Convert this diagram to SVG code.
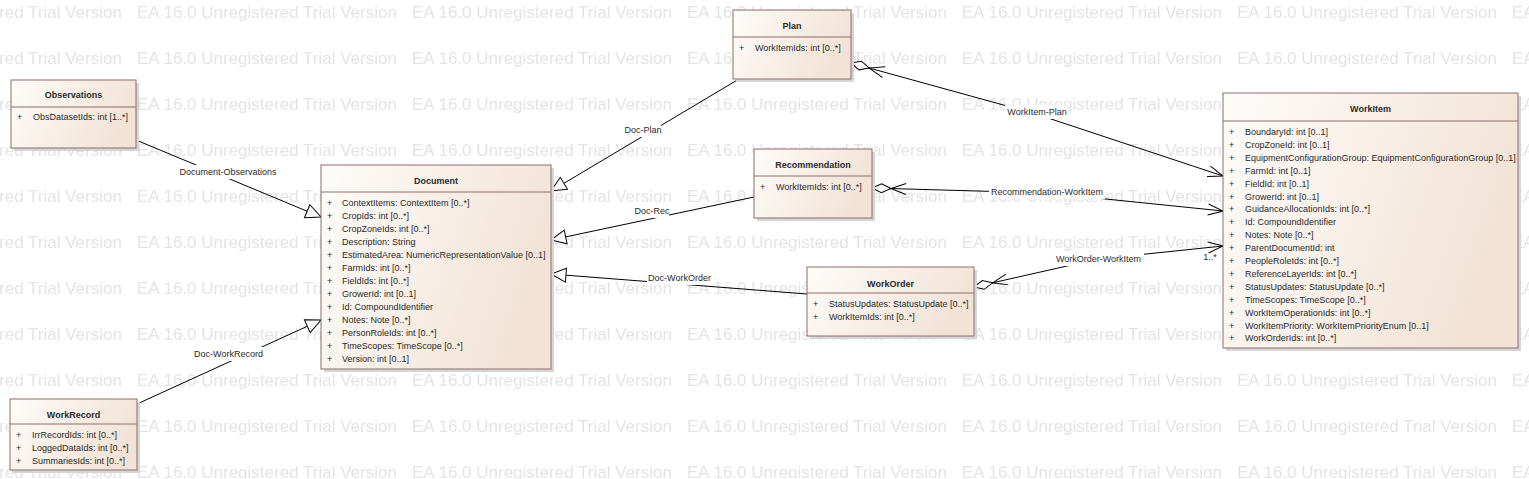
<svg xmlns="http://www.w3.org/2000/svg" width="1529" height="479" viewBox="0 0 1529 479">
<style>
.wm{font-family:"Liberation Sans",Arial,sans-serif;font-size:17px;fill:#e4e4e4}
.box{fill:url(#boxfill);stroke:#8a6e6e;stroke-width:1}
.shadow{fill:#d6d6d6}
.div{stroke:#8a6e6e;stroke-width:1}
.name{font-family:"Liberation Sans",Arial,sans-serif;font-size:9px;font-weight:bold;fill:#2a2a2a;text-anchor:middle}
.attr{font-family:"Liberation Sans",Arial,sans-serif;font-size:9px;fill:#2a2a2a}
.line{fill:none;stroke:#000;stroke-width:1}
.gen{marker-end:url(#gen)}
.agg{marker-start:url(#agg);marker-end:url(#open)}
.lblbg{fill:#fff}
.lbl{font-family:"Liberation Sans",Arial,sans-serif;font-size:9px;fill:#2a2a2a;text-anchor:middle}
</style>
<defs>
<linearGradient id="boxfill" x1="0" y1="0" x2="1" y2="0.3">
<stop offset="0" stop-color="#fefcfa"/>
<stop offset="1" stop-color="#f2e3d6"/>
</linearGradient>
<pattern id="wm" patternUnits="userSpaceOnUse" x="137" y="0" width="275" height="46">
<text class="wm" x="0" y="18">EA 16.0 Unregistered Trial Version</text>
</pattern>
<marker id="gen" markerUnits="userSpaceOnUse" orient="auto" refX="0" refY="0" markerWidth="20" markerHeight="20" overflow="visible">
<path d="M-15,-7 L0,0 L-15,7 Z" fill="#fff" stroke="#000" stroke-width="1"/>
</marker>
<marker id="open" markerUnits="userSpaceOnUse" orient="auto" refX="0" refY="0" markerWidth="20" markerHeight="20" overflow="visible">
<path d="M-15,-5.5 L0,0 L-15,5.5" fill="none" stroke="#000" stroke-width="1"/>
</marker>
<marker id="agg" markerUnits="userSpaceOnUse" orient="auto" refX="0" refY="0" markerWidth="40" markerHeight="20" overflow="visible">
<path d="M0,0 L9.5,-4.5 L19,0 L9.5,4.5 Z" fill="#fff" stroke="#000" stroke-width="1"/>
<path d="M34,-5.5 L19,0 L34,5.5" fill="none" stroke="#000" stroke-width="1"/>
</marker>
</defs>
<rect x="0" y="0" width="1529" height="479" fill="#fff"/>
<rect x="0" y="0" width="1529" height="479" fill="url(#wm)"/>

<g id="connectors">
<path class="line gen" d="M136,140 L321,217"/>
<path class="line gen" d="M137,404 L321,320"/>
<path class="line gen" d="M739,79 L551,191"/>
<path class="line gen" d="M754,197 L551,240"/>
<path class="line gen" d="M807,294 L551,274"/>
<path class="line agg" d="M851,63 L1036,114 L1223,176"/>
<path class="line agg" d="M872,188 L1047,193 L1223,211"/>
<path class="line agg" d="M974,287 L1098,259 L1223,246"/>
<rect class="lblbg" x="179" y="165" width="99" height="14"/>
<text class="lbl" x="228" y="175">Document-Observations</text>
<rect class="lblbg" x="194" y="347" width="69" height="14"/>
<text class="lbl" x="228.5" y="357">Doc-WorkRecord</text>
<rect class="lblbg" x="625" y="123" width="36" height="14"/>
<text class="lbl" x="643" y="133">Doc-Plan</text>
<rect class="lblbg" x="635" y="204" width="34" height="14"/>
<text class="lbl" x="652" y="214">Doc-Rec</text>
<rect class="lblbg" x="647" y="271" width="65" height="14"/>
<text class="lbl" x="679.5" y="281">Doc-WorkOrder</text>
<rect class="lblbg" x="1005" y="105" width="64" height="14"/>
<text class="lbl" x="1037" y="115">WorkItem-Plan</text>
<rect class="lblbg" x="989" y="185" width="116" height="14"/>
<text class="lbl" x="1047" y="195">Recommendation-WorkItem</text>
<rect class="lblbg" x="1053" y="252" width="91" height="14"/>
<text class="lbl" x="1098.5" y="262">WorkOrder-WorkItem</text>
<text class="lbl" x="1210" y="260">1..*</text>
</g>

<g id="Observations">
<rect class="shadow" x="14" y="83" width="125" height="68"/>
<rect class="box" x="11" y="80" width="125" height="68"/>
<line class="div" x1="11" y1="107" x2="136" y2="107"/>
<text class="name" x="73.5" y="98">Observations</text>
<text class="attr" x="17" y="120">+</text><text class="attr" x="33" y="120">ObsDatasetIds: int [1..*]</text>
</g>

<g id="Document">
<rect class="shadow" x="324" y="168" width="230" height="204"/>
<rect class="box" x="321" y="165" width="230" height="204"/>
<line class="div" x1="321" y1="192" x2="551" y2="192"/>
<text class="name" x="436" y="184">Document</text>
<g class="attr">
<text x="327" y="206">+</text><text x="342" y="206">ContextItems: ContextItem [0..*]</text>
<text x="327" y="219">+</text><text x="342" y="219">CropIds: int [0..*]</text>
<text x="327" y="232">+</text><text x="342" y="232">CropZoneIds: int [0..*]</text>
<text x="327" y="245">+</text><text x="342" y="245">Description: String</text>
<text x="327" y="258">+</text><text x="342" y="258">EstimatedArea: NumericRepresentationValue [0..1]</text>
<text x="327" y="271">+</text><text x="342" y="271">FarmIds: int [0..*]</text>
<text x="327" y="284">+</text><text x="342" y="284">FieldIds: int [0..*]</text>
<text x="327" y="297">+</text><text x="342" y="297">GrowerId: int [0..1]</text>
<text x="327" y="310">+</text><text x="342" y="310">Id: CompoundIdentifier</text>
<text x="327" y="323">+</text><text x="342" y="323">Notes: Note [0..*]</text>
<text x="327" y="336">+</text><text x="342" y="336">PersonRoleIds: int [0..*]</text>
<text x="327" y="349">+</text><text x="342" y="349">TimeScopes: TimeScope [0..*]</text>
<text x="327" y="362">+</text><text x="342" y="362">Version: int [0..1]</text>
</g>
</g>

<g id="Plan">
<rect class="shadow" x="736" y="13" width="118" height="69"/>
<rect class="box" x="733" y="10" width="118" height="69"/>
<line class="div" x1="733" y1="37" x2="851" y2="37"/>
<text class="name" x="792" y="29">Plan</text>
<text class="attr" x="739" y="51">+</text><text class="attr" x="755" y="51">WorkItemIds: int [0..*]</text>
</g>

<g id="Recommendation">
<rect class="shadow" x="757" y="152" width="118" height="69"/>
<rect class="box" x="754" y="149" width="118" height="69"/>
<line class="div" x1="754" y1="176" x2="872" y2="176"/>
<text class="name" x="813" y="168">Recommendation</text>
<text class="attr" x="760" y="190">+</text><text class="attr" x="776" y="190">WorkItemIds: int [0..*]</text>
</g>

<g id="WorkOrder">
<rect class="shadow" x="810" y="270" width="167" height="69"/>
<rect class="box" x="807" y="267" width="167" height="69"/>
<line class="div" x1="807" y1="293" x2="974" y2="293"/>
<text class="name" x="890.5" y="286.5">WorkOrder</text>
<text class="attr" x="813" y="307">+</text><text class="attr" x="829" y="307">StatusUpdates: StatusUpdate [0..*]</text>
<text class="attr" x="813" y="320">+</text><text class="attr" x="829" y="320">WorkItemIds: int [0..*]</text>
</g>

<g id="WorkItem">
<rect class="shadow" x="1226" y="96" width="295" height="255"/>
<rect class="box" x="1223" y="93" width="295" height="255"/>
<line class="div" x1="1223" y1="121" x2="1518" y2="121"/>
<text class="name" x="1370.5" y="112">WorkItem</text>
<g class="attr">
<text x="1229" y="135">+</text><text x="1245" y="135">BoundaryId: int [0..1]</text>
<text x="1229" y="147.9">+</text><text x="1245" y="147.9">CropZoneId: int [0..1]</text>
<text x="1229" y="160.8">+</text><text x="1245" y="160.8">EquipmentConfigurationGroup: EquipmentConfigurationGroup [0..1]</text>
<text x="1229" y="173.7">+</text><text x="1245" y="173.7">FarmId: int [0..1]</text>
<text x="1229" y="186.6">+</text><text x="1245" y="186.6">FieldId: int [0..1]</text>
<text x="1229" y="199.5">+</text><text x="1245" y="199.5">GrowerId: int [0..1]</text>
<text x="1229" y="212.4">+</text><text x="1245" y="212.4">GuidanceAllocationIds: int [0..*]</text>
<text x="1229" y="225.3">+</text><text x="1245" y="225.3">Id: CompoundIdentifier</text>
<text x="1229" y="238.2">+</text><text x="1245" y="238.2">Notes: Note [0..*]</text>
<text x="1229" y="251.1">+</text><text x="1245" y="251.1">ParentDocumentId: int</text>
<text x="1229" y="264">+</text><text x="1245" y="264">PeopleRoleIds: int [0..*]</text>
<text x="1229" y="276.9">+</text><text x="1245" y="276.9">ReferenceLayerIds: int [0..*]</text>
<text x="1229" y="289.8">+</text><text x="1245" y="289.8">StatusUpdates: StatusUpdate [0..*]</text>
<text x="1229" y="302.7">+</text><text x="1245" y="302.7">TimeScopes: TimeScope [0..*]</text>
<text x="1229" y="315.6">+</text><text x="1245" y="315.6">WorkItemOperationIds: int [0..*]</text>
<text x="1229" y="328.5">+</text><text x="1245" y="328.5">WorkItemPriority: WorkItemPriorityEnum [0..1]</text>
<text x="1229" y="341.4">+</text><text x="1245" y="341.4">WorkOrderIds: int [0..*]</text>
</g>
</g>

<g id="WorkRecord">
<rect class="shadow" x="13" y="402" width="127" height="71"/>
<rect class="box" x="10" y="399" width="127" height="71"/>
<line class="div" x1="10" y1="424" x2="137" y2="424"/>
<text class="name" x="73.5" y="417.5">WorkRecord</text>
<g class="attr">
<text x="16" y="438">+</text><text x="32" y="438">IrrRecordIds: int [0..*]</text>
<text x="16" y="451">+</text><text x="32" y="451">LoggedDataIds: int [0..*]</text>
<text x="16" y="464">+</text><text x="32" y="464">SummariesIds: int [0..*]</text>
</g>
</g>
</svg>
